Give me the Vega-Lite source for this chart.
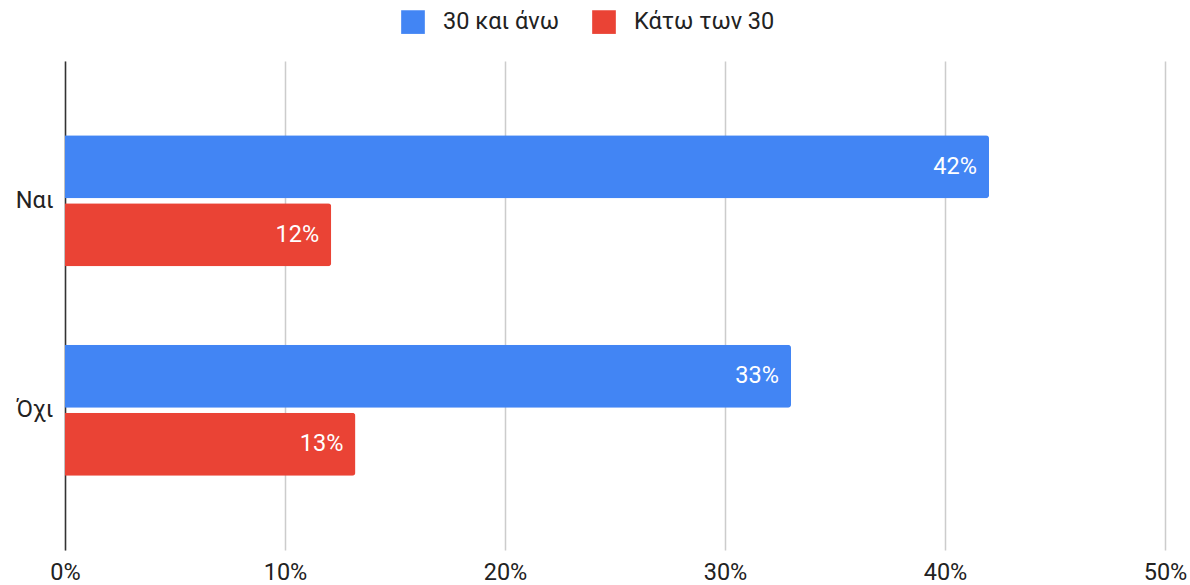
{
  "$schema": "https://vega.github.io/schema/vega-lite/v6.json",
  "autosize": {"type": "none"},
  "width": 1100,
  "height": 489,
  "padding": {"left": 65, "top": 61, "right": 25, "bottom": 35},
  "background": "white",
  "config": {
    "font": "Roboto",
    "view": {"stroke": null}
  },
  "data": {
    "values": [
      {"answer": "Ναι", "group": "30 και άνω", "value": 0.42},
      {"answer": "Ναι", "group": "Κάτω των 30", "value": 0.121},
      {"answer": "Όχι", "group": "30 και άνω", "value": 0.33},
      {"answer": "Όχι", "group": "Κάτω των 30", "value": 0.132}
    ]
  },
  "encoding": {
    "y": {
      "field": "answer",
      "type": "nominal",
      "sort": ["Ναι", "Όχι"],
      "scale": {"paddingInner": 0.374, "paddingOuter": 0.355},
      "axis": {
        "title": null,
        "ticks": false,
        "domain": true,
        "domainColor": "#333333",
        "domainWidth": 1.5,
        "labelFontSize": 23.5,
        "labelColor": "#222222",
        "labelPadding": 12,
        "labelFont": "Roboto"
      }
    },
    "yOffset": {
      "field": "group",
      "type": "nominal",
      "sort": ["30 και άνω", "Κάτω των 30"],
      "scale": {"paddingInner": 0.074, "paddingOuter": 0}
    },
    "x": {
      "field": "value",
      "type": "quantitative",
      "scale": {"domain": [0, 0.5]},
      "axis": {
        "title": null,
        "format": ".0%",
        "values": [0, 0.1, 0.2, 0.3, 0.4, 0.5],
        "ticks": false,
        "domain": false,
        "grid": true,
        "gridColor": "#cccccc",
        "gridWidth": 1.5,
        "labelFlush": false,
        "labelFontSize": 23.5,
        "labelColor": "#222222",
        "labelPadding": 10,
        "labelFont": "Roboto"
      }
    }
  },
  "layer": [
    {
      "mark": {"type": "bar", "cornerRadiusEnd": 3},
      "encoding": {
        "color": {
          "field": "group",
          "type": "nominal",
          "sort": ["30 και άνω", "Κάτω των 30"],
          "scale": {"domain": ["30 και άνω", "Κάτω των 30"], "range": ["#4285F4", "#EA4335"]},
          "legend": {
            "title": null,
            "orient": "none",
            "direction": "horizontal",
            "legendX": 336,
            "legendY": -51,
            "symbolType": "square",
            "symbolSize": 560,
            "symbolStrokeWidth": 0,
            "symbolOpacity": 1,
            "labelFontSize": 23.5,
            "labelColor": "#222222",
            "labelFont": "Roboto",
            "labelOffset": 18,
            "columnPadding": 32
          }
        }
      }
    },
    {
      "mark": {"type": "text", "align": "right", "baseline": "middle", "dx": -12, "color": "white", "fontSize": 23.5, "font": "Roboto"},
      "encoding": {
        "text": {"field": "value", "type": "quantitative", "format": ".0%"}
      }
    }
  ]
}
